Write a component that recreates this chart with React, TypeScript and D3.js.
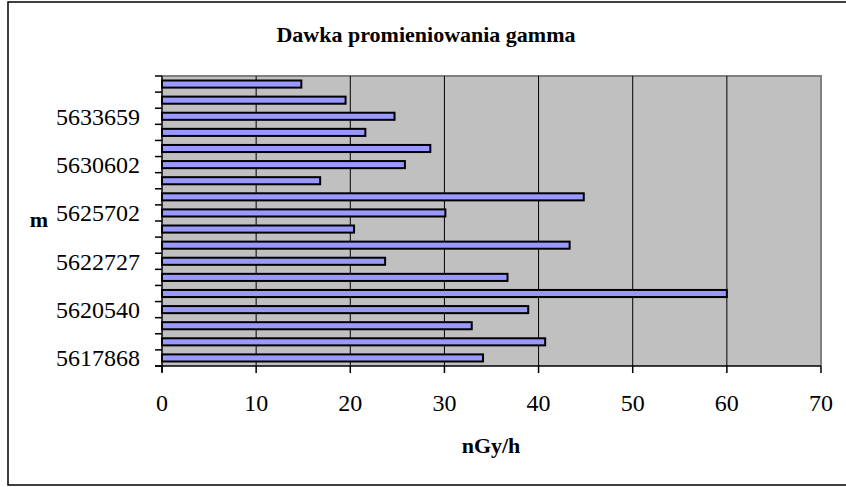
import * as d3 from "d3";
import React, { useEffect, useRef } from "react";

// bottom-to-top, as the spreadsheet plots them
const values = [34.1, 40.7, 32.9, 38.9, 60.0, 36.7, 23.7, 43.3, 20.4, 30.1, 44.8, 16.8, 25.8, 28.5, 21.6, 24.7, 19.5, 14.8];
// only every third category carries a label
const tickLabels = ["5617868", "5620540", "5622727", "5625702", "5630602", "5633659"];
const xTicks = [0, 10, 20, 30, 40, 50, 60, 70];
const title = "Dawka promieniowania gamma";
const xTitle = "nGy/h";
const yTitle = "m";

export default function App() {
  const ref = useRef<SVGSVGElement>(null);

  useEffect(() => {
    const width = 846,
      height = 487;
    const left = 162,
      right = 821,
      top = 76,
      bottom = 366;
    const font = "'Liberation Serif', 'Times New Roman', serif";

    const svg = d3.select(ref.current);
    svg.selectAll("*").remove();
    svg.attr("width", width).attr("height", height);

    const x = d3.scaleLinear().domain([0, 70]).range([left, right]);
    const y = d3.scaleBand<number>()
      .domain(d3.range(values.length))
      .range([bottom, top]);
    const barH = y.bandwidth() * 0.44;

    // outer chart frame (right side runs off the page)
    svg.append("path")
      .attr("d", `M${width + 5},2 H8 V485 H${width + 5}`)
      .attr("fill", "none")
      .attr("stroke", "black")
      .attr("stroke-width", 1.5);

    // plot area
    svg.append("rect")
      .attr("x", left).attr("y", top)
      .attr("width", right - left).attr("height", bottom - top)
      .attr("fill", "#c0c0c0");
    svg.append("path")
      .attr("d", `M${left},${top} H${right} V${bottom}`)
      .attr("fill", "none")
      .attr("stroke", "#808080")
      .attr("stroke-width", 2);

    // gridlines
    svg.selectAll(".grid")
      .data(xTicks.filter(t => t > 0 && t < 70))
      .join("line")
      .attr("x1", d => x(d)).attr("x2", d => x(d))
      .attr("y1", top).attr("y2", bottom)
      .attr("stroke", "black")
      .attr("stroke-width", 1);

    // bars
    svg.selectAll(".bar")
      .data(values)
      .join("rect")
      .attr("x", x(0))
      .attr("y", (d, i) => (y(i) as number) + y.bandwidth() / 2 - barH / 2)
      .attr("width", d => x(d) - x(0))
      .attr("height", barH)
      .attr("fill", "#9999ff")
      .attr("stroke", "black")
      .attr("stroke-width", 2);

    // y axis
    svg.append("line")
      .attr("x1", left).attr("x2", left)
      .attr("y1", top).attr("y2", bottom + 6)
      .attr("stroke", "black").attr("stroke-width", 1.5);
    svg.selectAll(".ytick")
      .data(d3.range(values.length + 1))
      .join("line")
      .attr("x1", left - 7).attr("x2", left)
      .attr("y1", d => bottom - d * y.step())
      .attr("y2", d => bottom - d * y.step())
      .attr("stroke", "black").attr("stroke-width", 1.5);
    svg.selectAll(".ylab")
      .data(tickLabels)
      .join("text")
      .attr("x", 140)
      .attr("y", (d, i) => (y(i * 3) as number) + y.bandwidth() / 2)
      .attr("dy", "0.35em")
      .attr("text-anchor", "end")
      .attr("font-family", font)
      .attr("font-size", 24)
      .text(d => d);

    // x axis
    svg.append("line")
      .attr("x1", left - 7).attr("x2", right)
      .attr("y1", bottom).attr("y2", bottom)
      .attr("stroke", "black").attr("stroke-width", 1.5);
    svg.selectAll(".xtick")
      .data(xTicks)
      .join("line")
      .attr("x1", d => x(d)).attr("x2", d => x(d))
      .attr("y1", bottom).attr("y2", bottom + 7)
      .attr("stroke", "black").attr("stroke-width", 1.5);
    svg.selectAll(".xlab")
      .data(xTicks)
      .join("text")
      .attr("x", d => x(d))
      .attr("y", 411)
      .attr("text-anchor", "middle")
      .attr("font-family", font)
      .attr("font-size", 24)
      .text(d => d);

    // titles
    svg.append("text")
      .attr("x", 426).attr("y", 42)
      .attr("text-anchor", "middle")
      .attr("font-family", font)
      .attr("font-weight", "bold")
      .attr("font-size", 22)
      .text(title);
    svg.append("text")
      .attr("x", 491).attr("y", 453)
      .attr("text-anchor", "middle")
      .attr("font-family", font)
      .attr("font-weight", "bold")
      .attr("font-size", 22)
      .text(xTitle);
    svg.append("text")
      .attr("x", 39).attr("y", 227)
      .attr("text-anchor", "middle")
      .attr("font-family", font)
      .attr("font-weight", "bold")
      .attr("font-size", 22)
      .text(yTitle);
  }, []);

  return (
    <svg ref={ref} style={{ position: "absolute", left: 0, top: 0 }}></svg>
  );
}
